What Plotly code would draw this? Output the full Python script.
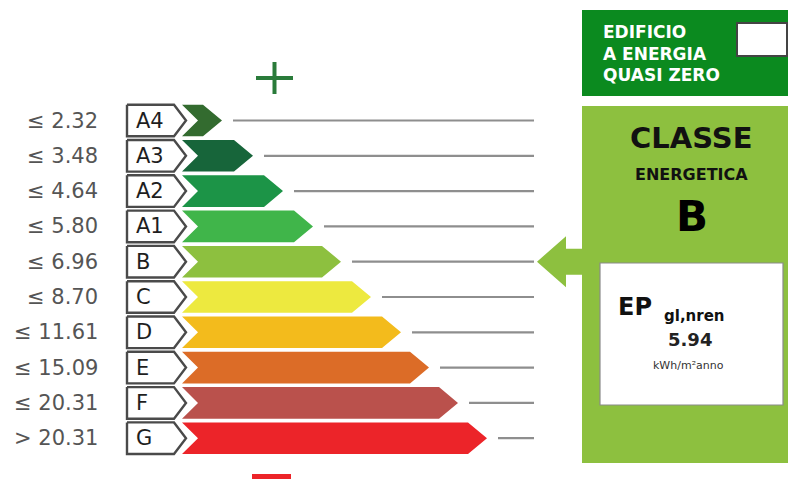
import plotly.graph_objects as go

# ---- data ----
classes = ["A4", "A3", "A2", "A1", "B", "C", "D", "E", "F", "G"]
thresholds = ["≤ 2.32", "≤ 3.48", "≤ 4.64", "≤ 5.80", "≤ 6.96",
              "≤ 8.70", "≤ 11.61", "≤ 15.09", "≤ 20.31", "> 20.31"]
bar_length = [40, 71, 101, 131, 159, 189, 219, 247, 276, 305]
colors = ["#336b2f", "#17653a", "#1c9447", "#40b54a", "#8dc03f",
          "#ede93f", "#f3bb1c", "#dc6c27", "#ba514c", "#ec2429"]
current_class = "B"
ep_value = "5.94"

W, H = 796, 479
OFF = 8  # page body margin of the html page
FONT = "DejaVu Sans"

# layout constants (pixels on the axes)
row0, pitch, half = 120.5, 35.3, 15.8
bar_x0, notch, tip_len = 182, 16, 19
box_x0, box_x1, box_tip = 127, 174, 186
line_end = 534

fig = go.Figure()
shapes = []
annotations = []

for i, (cls, thr, ln, col) in enumerate(zip(classes, thresholds, bar_length, colors)):
    yc = row0 + pitch * i
    top, bot = yc - half, yc + half
    xtip = bar_x0 + ln
    xr = xtip - tip_len
    # coloured arrow
    fig.add_trace(go.Scatter(
        x=[bar_x0, xr, xtip, xr, bar_x0, bar_x0 + notch, bar_x0],
        y=[top, top, yc, bot, bot, yc, top],
        mode="lines", fill="toself", fillcolor=col,
        line=dict(width=0, color=col), hoverinfo="skip", showlegend=False))
    # label box
    fig.add_trace(go.Scatter(
        x=[box_x0, box_x1, box_tip, box_x1, box_x0, box_x0],
        y=[top, top, yc, bot, bot, top],
        mode="lines", fill="toself", fillcolor="white",
        line=dict(width=2.4, color="#4a4a4a"), hoverinfo="skip", showlegend=False))
    # grey guide line
    fig.add_trace(go.Scatter(
        x=[xtip + 11, line_end], y=[yc, yc], mode="lines",
        line=dict(width=2.2, color="#8e8e8e"), hoverinfo="skip", showlegend=False))
    annotations.append(dict(x=134, y=yc, text=cls, xanchor="left", yanchor="middle",
                            showarrow=False, font=dict(family=FONT, size=21, color="#1e1e1e")))
    annotations.append(dict(x=100, y=yc, text=thr, xanchor="right", yanchor="middle",
                            showarrow=False, font=dict(family=FONT, size=21, color="#555555")))

# plus sign
shapes.append(dict(type="line", x0=256, x1=293, y0=78, y1=78, line=dict(color="#2a7b3a", width=4)))
shapes.append(dict(type="line", x0=274.5, x1=274.5, y0=62, y1=94, line=dict(color="#2a7b3a", width=4)))
# red hint at bottom
shapes.append(dict(type="rect", x0=252, x1=291, y0=474, y1=490, fillcolor="#ec2429", line=dict(width=0)))

# NZEB box
shapes.append(dict(type="rect", x0=582, x1=810, y0=10, y1=96, fillcolor="#0b8a1f", line=dict(width=0)))
shapes.append(dict(type="rect", x0=737, x1=787, y0=23, y1=56, fillcolor="white",
                   line=dict(color="#444444", width=2)))
for t, yy in zip(["EDIFICIO", "A ENERGIA", "QUASI ZERO"], [32, 53.5, 75]):
    annotations.append(dict(x=601, y=yy, text="<b>" + t + "</b>", xanchor="left", yanchor="middle",
                            showarrow=False, font=dict(family=FONT, size=17, color="white")))

# class panel
ci = classes.index(current_class)
pcol = colors[ci]
shapes.append(dict(type="rect", x0=582, x1=810, y0=106, y1=463, fillcolor=pcol, line=dict(width=0)))
ya = row0 + pitch * ci
fig.add_trace(go.Scatter(
    x=[537, 566, 566, 585, 585, 566, 566, 537],
    y=[ya, ya - 25.5, ya - 13, ya - 13, ya + 13, ya + 13, ya + 25.5, ya],
    mode="lines", fill="toself", fillcolor=pcol, line=dict(width=0, color=pcol),
    hoverinfo="skip", showlegend=False))
annotations.append(dict(x=691, y=138, text="<b>CLASSE</b>", showarrow=False, yanchor="middle",
                        font=dict(family=FONT, size=29, color="#111111")))
annotations.append(dict(x=691, y=174, text="<b>ENERGETICA</b>", showarrow=False, yanchor="middle",
                        font=dict(family=FONT, size=16, color="#111111")))
annotations.append(dict(x=692, y=216, text="<b>" + current_class + "</b>", showarrow=False,
                        yanchor="middle", font=dict(family=FONT, size=42, color="#000000")))

# EP box
shapes.append(dict(type="rect", x0=600, x1=783, y0=263, y1=405, fillcolor="white",
                   line=dict(color="#8a8a8a", width=1.2)))
annotations.append(dict(x=616, y=307, text="<b>EP</b>", xanchor="left", yanchor="middle",
                        showarrow=False, font=dict(family=FONT, size=24, color="#111111")))
annotations.append(dict(x=662, y=316, text="<b>gl,nren</b>", xanchor="left", yanchor="middle",
                        showarrow=False, font=dict(family=FONT, size=15, color="#111111")))
annotations.append(dict(x=690, y=339, text="<b>" + ep_value + "</b>", yanchor="middle",
                        showarrow=False, font=dict(family=FONT, size=18, color="#222222")))
annotations.append(dict(x=688, y=365, text="kWh/m²anno", yanchor="middle",
                        showarrow=False, font=dict(family=FONT, size=11, color="#333333")))

fig.update_layout(
    width=W, height=H, margin=dict(l=0, r=0, t=0, b=0),
    paper_bgcolor="white", plot_bgcolor="white",
    xaxis=dict(range=[OFF, W + OFF], visible=False, fixedrange=True),
    yaxis=dict(range=[H + OFF, OFF], visible=False, fixedrange=True),
    shapes=shapes, annotations=annotations, showlegend=False)

fig.write_html("out.html")
